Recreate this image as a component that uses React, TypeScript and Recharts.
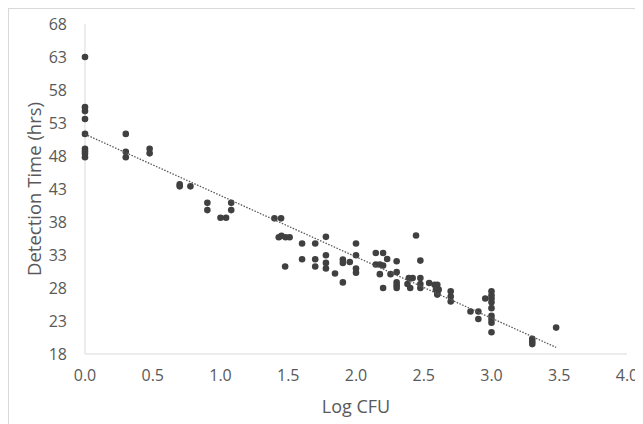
import React from 'react';
import { ScatterChart, Scatter, XAxis, YAxis, Label } from 'recharts';

// Log CFU vs detection time
const logCfu = [
  0, 0, 0, 0, 0, 0, 0, 0, 0,
  0.301, 0.301, 0.301,
  0.477, 0.477,
  0.699, 0.699, 0.778,
  0.903, 0.903, 1.0, 1.041, 1.079, 1.079,
  1.398, 1.447, 1.43, 1.45, 1.48, 1.51, 1.477,
  1.602, 1.602, 1.699, 1.699, 1.699,
  1.778, 1.778, 1.778, 1.778, 1.845,
  1.903, 1.903, 1.903, 1.954,
  2.0, 2.0, 2.0, 2.0,
  2.146, 2.146, 2.176, 2.176, 2.2, 2.2, 2.2, 2.23, 2.255,
  2.3, 2.3, 2.3, 2.3, 2.3,
  2.38, 2.39, 2.418, 2.4, 2.443,
  2.475, 2.475, 2.475, 2.475,
  2.54, 2.58, 2.6, 2.59, 2.61, 2.6, 2.6,
  2.699, 2.699, 2.699,
  2.845, 2.903, 2.903, 2.954,
  3.0, 3.0, 3.0, 3.0, 3.0, 3.0, 3.0, 3.0, 3.0,
  3.301, 3.301, 3.301,
  3.477,
];

const detectionHrs = [
  63.0, 55.4, 54.8, 53.6, 51.35, 49.1, 48.7, 48.35, 47.8,
  51.35, 48.65, 47.8,
  49.1, 48.4,
  43.7, 43.4, 43.4,
  40.9, 39.8, 38.65, 38.65, 40.9, 39.8,
  38.55, 38.55, 35.7, 35.9, 35.7, 35.7, 31.25,
  34.75, 32.35, 34.75, 32.35, 31.25,
  35.75, 32.97, 31.8, 30.95, 30.2,
  32.3, 31.8, 28.85, 31.95,
  34.75, 32.97, 30.95, 30.3,
  33.3, 31.55, 31.55, 30.1, 31.4, 33.3, 28.0, 32.4, 30.1,
  32.05, 30.4, 28.85, 28.4, 28.0,
  28.6, 29.5, 29.5, 28.0, 35.95,
  32.15, 29.5, 28.6, 28.0,
  28.75, 28.5, 28.5, 27.75, 27.75, 27.2, 27.0,
  27.5, 26.7, 25.95,
  24.45, 24.45, 23.3, 26.4,
  27.5, 26.9, 26.4, 25.85, 24.95, 23.8, 23.3, 22.75, 21.3,
  20.3, 19.9, 19.5,
  22.0,
];

// linear trendline end points
const trendX = [0, 3.477];
const trendY = [51.3, 19.0];

const xTicks = [0, 0.5, 1, 1.5, 2, 2.5, 3, 3.5, 4];
const yTicks = [18, 23, 28, 33, 38, 43, 48, 53, 58, 63, 68];

const points = logCfu.map((x, i) => ({ x, y: detectionHrs[i] }));
const trend = trendX.map((x, i) => ({ x, y: trendY[i] }));

const font = '"Open Sans", sans-serif';
const tickStyle = { fill: '#595959', fontSize: 16, fontFamily: font };

const Dot = (props: any) => <circle cx={props.cx} cy={props.cy} r={3.3} fill="#404040" />;

export default function App() {
  return (
    <div
      style={{
        width: 640,
        height: 420,
        borderLeft: '1px solid #d9d9d9',
        borderTop: '1px solid #d9d9d9',
        boxSizing: 'border-box',
        background: '#fff',
      }}
    >
      <ScatterChart width={630} height={410} margin={{ top: 15, right: 12, bottom: 5, left: 0 }}>
        <XAxis
          type="number"
          dataKey="x"
          domain={[0, 4]}
          ticks={xTicks}
          tickFormatter={(v: number) => v.toFixed(1)}
          axisLine={{ stroke: '#d9d9d9' }}
          tickLine={false}
          tickSize={0}
          tickMargin={16}
          tick={tickStyle}
          height={60}
          interval={0}
        >
          <Label
            value="Log CFU"
            position="insideBottom"
            offset={1}
            style={{ fill: '#595959', fontSize: 18, fontFamily: font }}
          />
        </XAxis>
        <YAxis
          type="number"
          dataKey="y"
          domain={[18, 68]}
          ticks={yTicks}
          axisLine={{ stroke: '#d9d9d9' }}
          tickLine={false}
          tickSize={0}
          tickMargin={18}
          tick={tickStyle}
          width={76}
          interval={0}
        >
          <Label
            content={({ viewBox }: any) => {
              const cx = 24;
              const cy = viewBox.y + viewBox.height / 2;
              return (
                <text
                  x={cx}
                  y={cy}
                  transform={`rotate(-90 ${cx} ${cy})`}
                  textAnchor="middle"
                  dominantBaseline="central"
                  fill="#595959"
                  fontSize={18.5}
                  fontFamily={font}
                >
                  Detection Time (hrs)
                </text>
              );
            }}
          />
        </YAxis>
        <Scatter data={points} fill="#404040" isAnimationActive={false} shape={Dot} />
        <Scatter
          data={trend}
          line={{ stroke: '#595959', strokeWidth: 1.3, strokeDasharray: '1.5 1.5' }}
          shape={() => <g />}
          isAnimationActive={false}
        />
      </ScatterChart>
    </div>
  );
}
